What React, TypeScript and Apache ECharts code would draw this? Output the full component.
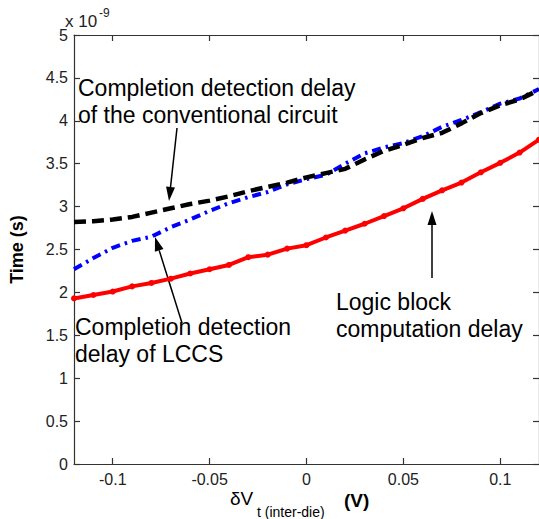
import React, { useEffect, useRef } from "react";
import * as echarts from "echarts";

// x values: delta Vt (inter-die), in volts
const xValues = [
  -0.12, -0.11, -0.1, -0.09, -0.08, -0.07, -0.06, -0.05, -0.04, -0.03, -0.02, -0.01,
  0, 0.01, 0.02, 0.03, 0.04, 0.05, 0.06, 0.07, 0.08, 0.09, 0.1, 0.11, 0.12,
];
// times in units of 1e-9 s
const logicBlockDelay = [
  1.93, 1.97, 2.01, 2.07, 2.11, 2.16, 2.22, 2.27, 2.32, 2.41, 2.44, 2.51,
  2.55, 2.64, 2.72, 2.8, 2.89, 2.98, 3.09, 3.19, 3.28, 3.4, 3.51, 3.63, 3.78,
];
const conventionalDelay = [
  2.82, 2.83, 2.85, 2.88, 2.93, 2.98, 3.03, 3.07, 3.12, 3.18, 3.23, 3.28,
  3.34, 3.39, 3.44, 3.55, 3.65, 3.72, 3.8, 3.86, 3.97, 4.09, 4.18, 4.25, 4.36,
];
const lccsDelay = [
  2.27, 2.4, 2.52, 2.6, 2.65, 2.76, 2.85, 2.95, 3.04, 3.11, 3.17, 3.26,
  3.32, 3.37, 3.5, 3.62, 3.69, 3.74, 3.82, 3.93, 4.01, 4.1, 4.2, 4.26, 4.37,
];
const xTicks = [-0.1, -0.05, 0, 0.05, 0.1];

const FONT = '"Liberation Sans", Arial, sans-serif';

function arrow(x1: number, y1: number, x2: number, y2: number) {
  const len = 14;
  const hw = 4.5;
  const dx = x2 - x1;
  const dy = y2 - y1;
  const d = Math.sqrt(dx * dx + dy * dy);
  const ux = dx / d;
  const uy = dy / d;
  const bx = x2 - ux * len;
  const by = y2 - uy * len;
  const px = -uy;
  const py = ux;
  return [
    {
      type: "line",
      shape: { x1, y1, x2: bx, y2: by },
      style: { stroke: "#000", lineWidth: 1.5 },
    },
    {
      type: "polygon",
      shape: {
        points: [
          [x2, y2],
          [bx + px * hw, by + py * hw],
          [bx - px * hw, by - py * hw],
        ],
      },
      style: { fill: "#000" },
    },
  ];
}

function annot(text: string, x: number, top: number) {
  return {
    type: "text",
    x,
    y: top,
    style: {
      text,
      fontSize: 23,
      fontFamily: FONT,
      lineHeight: 27,
      fill: "#000",
      verticalAlign: "top",
      align: "left",
    },
  };
}

export default function App() {
  const ref = useRef<HTMLDivElement>(null);
  useEffect(() => {
    document.body.style.margin = "0";
    const chart = echarts.init(ref.current!, null, { renderer: "svg" });
    const axisLineStyle = { color: "#333", width: 1.2 };
    const fmtX = (v: number) => String(+Number(v).toFixed(2));
    const option: any = {
      animation: false,
      backgroundColor: "#fff",
      grid: { left: 64, top: 35, right: -2, bottom: 55, containLabel: false },
      xAxis: [
        {
          type: "value",
          min: -0.12,
          max: 0.12,
          position: "bottom",
          axisLine: { show: true, onZero: false, lineStyle: axisLineStyle },
          axisTick: { show: true, inside: true, length: 6, customValues: xTicks, lineStyle: axisLineStyle },
          axisLabel: { customValues: xTicks, formatter: fmtX, fontSize: 16, fontFamily: FONT, color: "#222", margin: 7 },
          splitLine: { show: false },
        },
        {
          type: "value",
          min: -0.12,
          max: 0.12,
          position: "top",
          axisLine: { show: true, onZero: false, lineStyle: axisLineStyle },
          axisTick: { show: true, inside: true, length: 6, customValues: xTicks, lineStyle: axisLineStyle },
          axisLabel: { show: false },
          splitLine: { show: false },
        },
      ],
      yAxis: [
        {
          type: "value",
          min: 0,
          max: 5,
          interval: 0.5,
          position: "left",
          name: "Time (s)",
          nameLocation: "middle",
          nameGap: 48,
          nameTextStyle: { fontSize: 18, fontWeight: "bold", fontFamily: FONT, color: "#000" },
          axisLine: { show: true, onZero: false, lineStyle: axisLineStyle },
          axisTick: { show: true, inside: true, length: 6, lineStyle: axisLineStyle },
          axisLabel: { formatter: (v: number) => String(+Number(v).toFixed(1)), fontSize: 16, fontFamily: FONT, color: "#222", margin: 6 },
          splitLine: { show: false },
        },
        {
          type: "value",
          min: 0,
          max: 5,
          interval: 0.5,
          position: "right",
          axisLine: { show: true, onZero: false, lineStyle: axisLineStyle },
          axisTick: { show: true, inside: true, length: 6, lineStyle: axisLineStyle },
          axisLabel: { show: false },
          splitLine: { show: false },
        },
      ],
      series: [
        {
          type: "line",
          name: "Logic block computation delay",
          data: xValues.map((x, i) => [x, logicBlockDelay[i]]),
          lineStyle: { color: "#ff0000", width: 4 },
          itemStyle: { color: "#ff0000" },
          symbol: "circle",
          symbolSize: 6,
          showSymbol: true,
          z: 3,
        },
        {
          type: "line",
          name: "Completion detection delay of LCCS",
          data: xValues.map((x, i) => [x, lccsDelay[i]]),
          lineStyle: { color: "#0000ff", width: 4, type: [9, 5, 2.5, 5] },
          symbol: "none",
          z: 3,
        },
        {
          type: "line",
          name: "Completion detection delay of the conventional circuit",
          data: xValues.map((x, i) => [x, conventionalDelay[i]]),
          lineStyle: { color: "#000", width: 4.5, type: [12, 6] },
          symbol: "none",
          z: 4,
        },
      ],
      graphic: [
        annot("Completion detection delay\nof the conventional circuit", 78, 74.5),
        annot("Completion detection\ndelay of LCCS", 75, 313.5),
        annot("Logic block\ncomputation delay", 336, 288.5),
        ...arrow(177, 128, 169, 201),
        ...arrow(182, 323, 155, 237),
        ...arrow(432, 278, 432, 211),
        {
          type: "text",
          x: 65,
          y: 27 - 6,
          style: { text: "x 10", fontSize: 17, fontFamily: FONT, fill: "#222", verticalAlign: "middle" },
        },
        {
          type: "text",
          x: 99,
          y: 17 - 4,
          style: { text: "-9", fontSize: 12, fontFamily: FONT, fill: "#222", verticalAlign: "middle" },
        },
        {
          type: "text",
          x: 230,
          y: 498.5,
          style: { text: "δV", fontSize: 19, fontFamily: FONT, fill: "#000", verticalAlign: "middle" },
        },
        {
          type: "text",
          x: 257,
          y: 512,
          style: { text: "t (inter-die)", fontSize: 14, fontFamily: FONT, fill: "#000", verticalAlign: "middle" },
        },
        {
          type: "text",
          x: 344,
          y: 500,
          style: { text: "(V)", fontSize: 19, fontWeight: "bold", fontFamily: FONT, fill: "#000", verticalAlign: "middle" },
        },
      ],
    };
    chart.setOption(option);
    return () => chart.dispose();
  }, []);
  return (
    <div
      ref={ref}
      style={{ position: "fixed", left: 0, top: 0, width: 539, height: 519, background: "#fff" }}
    />
  );
}
